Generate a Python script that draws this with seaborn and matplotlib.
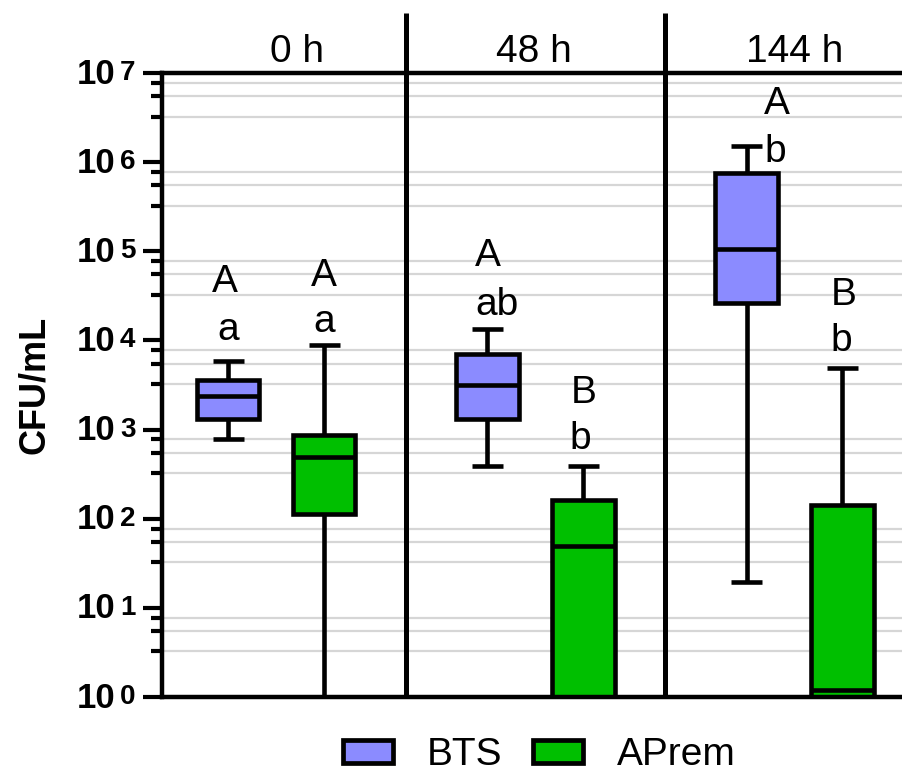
import numpy as np
import pandas as pd
import matplotlib
matplotlib.use("Agg")
import matplotlib.pyplot as plt
import seaborn as sns
from matplotlib import transforms
from matplotlib.ticker import FixedLocator, NullFormatter
from matplotlib.patches import Patch

# ---------------- data ----------------
times = ["0 h", "48 h", "144 h"]
groups = ["BTS", "APrem"]
colors = ["#8b8bff", "#00bf00"]
# five-number summaries (min, Q1, median, Q3, max), CFU/mL
bts_stats = [[790, 1300, 2400, 3600, 5900],
             [394, 1300, 3200, 7100, 13600],
             [19.5, 26500, 105000, 750000, 1530000]]
aprem_stats = [[1, 114, 495, 880, 9000],
               [1, 1, 50, 161, 387],
               [1, 1, 1.2, 144, 4900]]
upper_letters = [["A", "A"], ["A", "B"], ["A", "B"]]
lower_letters = [["a", "a"], ["ab", "b"], ["b", "b"]]
tick_exponents = list(range(8))

# ---------------- layout ----------------
group_step = 2.7
upper_log_y = [[4.54, 4.61], [4.83, 3.30], [6.54, 4.40]]
lower_log_y = [[4.01, 4.09], [4.29, 2.78], [6.00, 3.88]]
upper_dx = [[-0.03, 0.0], [0.01, 0.0], [0.32, 0.01]]
lower_dx = [[0.0, 0.0], [0.10, -0.03], [0.30, -0.01]]
title_fig_x = [297 / 902, 533.5 / 902, 795 / 902]

rows = []
for ti, t in enumerate(times):
    for gi, (g, st) in enumerate(zip(groups, [bts_stats, aprem_stats])):
        pos = ti * group_step + gi
        for v in st[ti]:
            rows.append({"pos": pos, "group": g, "value": v})
df = pd.DataFrame(rows)

sns.set_style("white")
plt.rcParams["font.family"] = ["Liberation Sans", "DejaVu Sans"]
plt.rcParams["text.color"] = "black"
plt.rcParams["axes.labelcolor"] = "black"
plt.rcParams["xtick.color"] = "black"
plt.rcParams["ytick.color"] = "black"

W, H = 902, 776
fig = plt.figure(figsize=(W / 100, H / 100), dpi=100)
ax = fig.add_axes([162 / W, 1 - 697 / H, (W - 162) / W, (697 - 73) / H])

sns.boxplot(data=df, x="pos", y="value", hue="group", hue_order=groups,
            palette=colors, native_scale=True, log_scale=(False, True),
            dodge=False, whis=(0, 100), width=0.65, saturation=1,
            linecolor="black", linewidth=3.3, legend=False, ax=ax)

# caps at half box width
bw = 0.65
for ln in ax.lines:
    xd = np.asarray(ln.get_xdata(), dtype=float)
    yd = np.asarray(ln.get_ydata(), dtype=float)
    if len(xd) == 2 and yd[0] == yd[1]:
        span = abs(xd[1] - xd[0])
        if 0 < span < 0.6 * bw:
            c = xd.mean()
            ln.set_xdata([c - bw / 4, c + bw / 4])
    ln.set_solid_capstyle("butt")

ax.set_xlim(-0.69, 7.02)
ax.set_ylim(1, 1e7)
ax.set_xlabel("")
ax.set_xticks([])
ax.set_ylabel("CFU/mL", fontsize=26, fontweight="bold", labelpad=62,
              color="black")

ax.set_yticks([10.0 ** k for k in tick_exponents])
ax.set_yticklabels([])
ax.yaxis.set_minor_locator(FixedLocator([m * 10.0 ** k for k in range(7)
                                         for m in (3.25, 5.5, 7.75)]))
ax.yaxis.set_minor_formatter(NullFormatter())
ax.tick_params(axis="y", which="major", direction="out", length=14, width=3,
               color="black", left=True)
ax.tick_params(axis="y", which="minor", direction="out", length=8, width=3,
               color="black", left=True)
ax.grid(False)
ax.grid(True, which="minor", axis="y", color="#d6d6d6", linewidth=1.6)
ax.set_axisbelow(True)

for side in ["left", "bottom", "top"]:
    ax.spines[side].set_visible(True)
    ax.spines[side].set_linewidth(3.2)
    ax.spines[side].set_color("black")
ax.spines["right"].set_visible(False)

# tick labels 10^k
base_tr = transforms.blended_transform_factory(ax.transAxes, ax.transData)
tr10 = transforms.offset_copy(base_tr, fig=fig, x=-47, y=-1, units="dots")
trsup = transforms.offset_copy(base_tr, fig=fig, x=-42, y=13, units="dots")
for k in tick_exponents:
    ax.text(0, 10.0 ** k, "10", transform=tr10, ha="right", va="center",
            fontsize=25, fontweight="bold", clip_on=False, color="black")
    ax.text(0, 10.0 ** k, str(k), transform=trsup, ha="left", va="top",
            fontsize=20, fontweight="bold", clip_on=False, color="black")

# dividers between time points
xt = ax.get_xaxis_transform()
for i in range(1, len(times)):
    xm = ((i - 1) * group_step + 1 + i * group_step) / 2
    ax.plot([xm, xm], [0, 1 + 60 / 624], transform=xt, color="black",
            linewidth=3.6, clip_on=False, solid_capstyle="butt")

# titles
for t, fx in zip(times, title_fig_x):
    fig.text(fx, 1 - 61.7 / H, t, ha="center", va="baseline", fontsize=28,
             color="black")

# significance letters
for ti in range(len(times)):
    for gi in range(len(groups)):
        pos = ti * group_step + gi
        ax.text(pos + upper_dx[ti][gi], 10 ** upper_log_y[ti][gi],
                upper_letters[ti][gi], ha="center", va="baseline", fontsize=28,
                color="black")
        ax.text(pos + lower_dx[ti][gi], 10 ** lower_log_y[ti][gi],
                lower_letters[ti][gi], ha="center", va="baseline", fontsize=28,
                color="black")

handles = [Patch(facecolor=c, edgecolor="black", linewidth=3.4, label=g)
           for g, c in zip(groups, colors)]
leg = fig.legend(handles=handles, loc="center",
                 bbox_to_anchor=(539 / W, 1 - 755 / H),
                 ncol=2, frameon=False, fontsize=28, handlelength=1.3,
                 handleheight=0.55, handletextpad=0.85, columnspacing=0.8)
for txt in leg.get_texts():
    txt.set_color("black")

fig.savefig("out.png", dpi=100)
